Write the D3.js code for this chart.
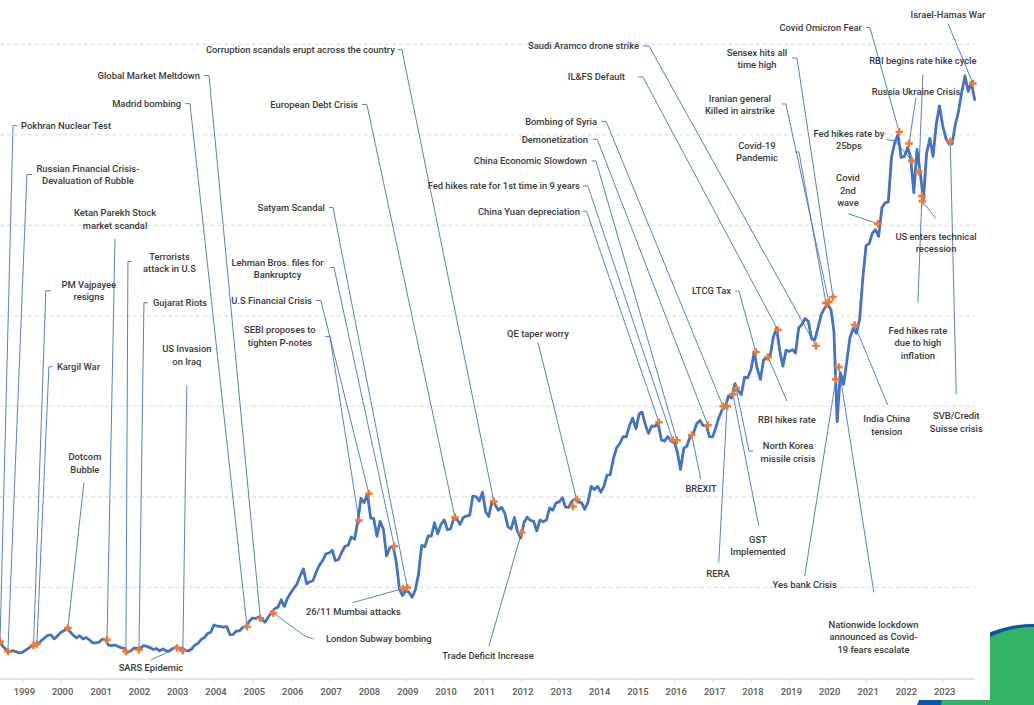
<!DOCTYPE html>
<html><head><meta charset="utf-8">
<script src="https://cdn.jsdelivr.net/npm/d3@7"></script>
<style>
html,body{margin:0;padding:0;background:#fff;overflow:hidden;}
svg{display:block;}
text{font-family:Roboto,"Liberation Sans",Arial,sans-serif;}
</style></head><body>
<svg id="chart" width="1034" height="705"></svg>
<script>
// ---------------- DATA ----------------
// Monthly BSE Sensex level (previous month close), one value per month starting at firstMonth
const firstMonth = "1998-04-01";
const sensex = [
  // 1998 Apr-Dec
  3890, 4000, 4000, 3450, 3100, 2900, 3000, 2900, 2750,
  // 1999
  2800, 3050, 3250, 3550, 3600, 3700, 4100, 4400, 4700, 4750, 4300, 4600,
  // 2000
  5000, 5200, 5500, 5050, 4700, 4400, 4650, 4300, 4450, 4200, 3850, 3850,
  // 2001
  3950, 4250, 4250, 3600, 3550, 3630, 3450, 3330, 3240, 2810, 2990, 3290,
  // 2002
  3260, 3310, 3560, 3470, 3340, 3130, 3240, 2990, 3180, 2990, 2950, 3230,
  // 2003
  3380, 3250, 3280, 3050, 2960, 3180, 3610, 3790, 4240, 4450, 4900, 5040,
  // 2004
  5840, 5700, 5670, 5590, 5660, 4760, 4800, 5170, 5190, 5580, 5670, 6230,
  // 2005
  6600, 6560, 6710, 6490, 6150, 6720, 7190, 7640, 7810, 8630, 7890, 8790,
  // 2006
  9400, 9920, 10370, 11280, 12040, 10400, 10610, 10740, 11700, 12450, 12960, 13700,
  // 2007
  13790, 14090, 12940, 13070, 13870, 14540, 14650, 15550, 15320, 17290, 19840, 19360,
  // 2008
  20290, 17650, 17580, 15640, 17290, 16420, 13460, 14360, 14560, 12860, 9790, 9090,
  // 2009
  9650, 9420, 8890, 9710, 11400, 14630, 14490, 15670, 15670, 17130, 15900, 16930,
  // 2010
  17460, 16360, 16430, 17530, 17560, 16940, 17700, 17870, 17970, 20070, 20030, 19520,
  // 2011
  20510, 18330, 17820, 19450, 19140, 18500, 18850, 18200, 16680, 16450, 17710, 16120,
  // 2012
  15450, 17190, 17750, 17400, 17320, 16220, 17430, 17240, 17430, 18760, 18510, 19340,
  // 2013
  19430, 19890, 18860, 18840, 19500, 19760, 19400, 19350, 18620, 19380, 21160, 20790,
  // 2014
  21170, 20510, 21120, 22390, 22420, 24220, 25410, 25890, 26640, 26630, 27870, 28690,
  // 2015
  27500, 29180, 29360, 27960, 27010, 27830, 27780, 28110, 26280, 26150, 26660, 26150,
  // 2016
  26120, 24870, 23000, 25340, 25610, 26670, 27000, 28050, 28450, 27870, 27930, 26650,
  // 2017
  26630, 27660, 28740, 29620, 29920, 31150, 30920, 32510, 31730, 31280, 33210, 33150,
  // 2018
  34060, 35970, 34180, 32970, 35160, 35320, 35420, 37610, 38650, 36230, 34440, 36190,
  // 2019
  36070, 36260, 35870, 38670, 39030, 39710, 39390, 37480, 37330, 38670, 40130, 40790,
  // 2020
  41250, 40720, 38300, 28300, 33720, 32420, 34920, 37610, 38630, 38070, 39610, 44150,
  // 2021
  47750, 48000, 49100, 49510, 48780, 51940, 52480, 52590, 57550, 59130, 60000, 57500,
  // 2022
  57600, 58600, 57500, 53600, 58400, 55800, 52800, 58000, 59600, 57600, 61200, 63200,
  // 2023 Jan-Nov
  61000, 59600, 59000, 59000, 61100, 62600, 64700, 66500, 64800, 65800, 63900
];

const yearTicks = [1999,2000,2001,2002,2003,2004,2005,2006,2007,2008,2009,2010,2011,
                   2012,2013,2014,2015,2016,2017,2018,2019,2020,2021,2022,2023];
const gridValues = [10000,20000,30000,40000,50000,60000,70000];

// Events (annotations)
const eventLabels = [
  "Pokhran Nuclear Test",
  "Russian Financial Crisis-\nDevaluation of Rubble",
  "Ketan Parekh Stock\nmarket scandal",
  "Terrorists\nattack in U.S",
  "PM Vajpayee\nresigns",
  "Gujarat Riots",
  "Kargil War",
  "US Invasion\non Iraq",
  "SARS Epidemic",
  "Dotcom\nBubble",
  "Madrid bombing",
  "Global Market Meltdown",
  "London Subway bombing",
  "26/11 Mumbai attacks",
  "Satyam Scandal",
  "Lehman Bros. files for\nBankruptcy",
  "U.S Financial Crisis",
  "SEBI proposes to\ntighten P-notes",
  "Corruption scandals erupt across the country",
  "European Debt Crisis",
  "Trade Deficit Increase",
  "QE taper worry",
  "",
  "China Yuan depreciation",
  "Fed hikes rate for 1st time in 9 years",
  "China Economic Slowdown",
  "Demonetization",
  "Bombing of Syria",
  "RERA",
  "GST\nImplemented",
  "North Korea\nmissile crisis",
  "BREXIT",
  "LTCG Tax",
  "RBI hikes rate",
  "IL&FS Default",
  "Saudi Aramco drone strike",
  "Covid-19\nPandemic",
  "Iranian general\nKilled in airstrike",
  "Sensex hits all\ntime high",
  "Yes bank Crisis",
  "Nationwide lockdown\nannounced as Covid-\n19 fears escalate",
  "India China\ntension",
  "Covid\n2nd\nwave",
  "Covid Omicron Fear",
  "Russia Ukraine Crisis",
  "Fed hikes rate by\n25bps",
  "RBI begins rate hike cycle",
  "Fed hikes rate\ndue to high\ninflation",
  "US enters technical\nrecession",
  "SVB/Credit\nSuisse crisis",
  "Israel-Hamas War"
];
const eventDates = [
  "1998-06-03","1998-08-17","2001-03-18","2001-09-14","1999-04-18","2002-01-16","1999-05-20",
  "2003-03-10","2003-01-13","2000-03-10","2004-11-10","2005-03-17","2005-07-18","2008-12-04",
  "2009-01-15","2008-09-13","2008-01-15","2007-10-12","2011-04-19","2010-04-13","2012-01-08",
  "2013-06-16","2013-05-12","2015-08-08","2015-12-19","2016-01-27","2016-11-17","2017-04-10",
  "2017-05-18","2017-07-13","2017-08-12","2016-06-16","2018-02-17","2018-06-12","2018-09-15",
  "2019-09-12","2019-12-16","2020-01-13","2020-02-21","2020-03-20","2020-04-17","2020-09-15",
  "2021-04-24","2021-11-13","2022-02-14","2022-03-14","2022-05-19","2022-06-17","2022-06-21",
  "2023-03-14","2023-10-16"
];
const eventValues = [
  4000, 2900, 4200, 2900, 3580, 3100, 3730,
  3000, 3300, 5500, 5650, 6570, 7170, 9860,
  9970, 14540, 20340, 17390, 19490, 17750, 16060,
  19710, 18940, 28240, 26250, 26250, 27900, 30000,
  30000, 31340, 32000, 26830, 35990, 35440, 38430,
  36660, 41420, 41530, 42080, 33000, 34330, 38980,
  50170, 60320, 59030, 57140, 55920, 53230, 52660,
  59250, 65670
];

// ---------------- LAYOUT (label offsets from each marker, in px) ----------------
const labelLayout = [
  {t:[21,-516],a:"start",p:[[17,-516],[13,-516]]},
  {t:[80,-477],a:"middle",p:[[24,-477],[19,-477]]},
  {t:[8,-420.5],a:"middle",p:[[8,-401]]},
  {t:[43.5,-389],a:"middle",p:[[6,-390],[2,-390]]},
  {t:[55.3,-354.7],a:"middle",p:[[17.3,-354.7],[12.3,-354.7]]},
  {t:[14,-347],a:"start",p:[[9,-347],[5,-347]]},
  {t:[20,-277.3],a:"start",p:[[16,-277.3],[12,-277.3]]},
  {t:[4,-295.5],a:"middle",p:[[4,-265]]},
  {t:[-26,20],a:"middle",p:[[-26,12]]},
  {t:[17,-165],a:"middle",p:[[16,-145]]},
  {t:[-66,-523],a:"end",p:[[-62,-523],[-57,-523]]},
  {t:[-60.3,-542.7],a:"end",p:[[-56.3,-542.7],[-51.3,-542.7]]},
  {t:[52.7,25.7],a:"start",p:[[40,25.7],[32,23.4]]},
  {t:[-97,23],a:"start",p:[[-50,14]]},
  {t:[-82.3,-380],a:"end",p:[[-78.3,-380],[-74.3,-380]]},
  {t:[-116.8,-277.7],a:"middle",p:[[-64.3,-278.7],[-60.3,-278.7]]},
  {t:[-57,-193.3],a:"end",p:[[-53,-193.3],[-48,-193.3]]},
  {t:[-79,-184],a:"middle",p:[[-34,-184],[-29,-184]]},
  {t:[-99,-452],a:"end",p:[[-96,-452],[-92,-452]]},
  {t:[-97,-412.7],a:"end",p:[[-93,-412.7],[-88,-412.7]]},
  {t:[-79.4,123],a:"start",p:[[-32.7,114]]},
  {t:[-38.7,-166],a:"middle",p:[[-38.7,-157]]},
  null,
  {t:[-79,-211],a:"end",p:[[-76.3,-211],[-72.3,-211]]},
  {t:[-93,-254.3],a:"end",p:[[-90,-254.3],[-85,-254.3]]},
  {t:[-90,-279.3],a:"end",p:[[-85.3,-279.3],[-81,-279.3]]},
  {t:[-120,-286],a:"end",p:[[-115.3,-286],[-110.7,-286]]},
  {t:[-126,-285],a:"end",p:[[-122,-285],[-117,-285]]},
  {t:[-9,167.3],a:"middle",p:[[-8.3,156.3]]},
  {t:[25,151.5],a:"middle",p:[[25.9,131.7]]},
  {t:[52,64],a:"middle",p:[[17,63],[13,63]]},
  {t:[9.3,53.3],a:"middle",p:[[9,44.3]]},
  {t:[-25,-61],a:"end",p:[[-21,-61],[-17,-61]]},
  {t:[19,63],a:"middle",p:[[19,44]]},
  {t:[-153,-253],a:"end",p:[[-140,-253],[-135,-253]]},
  {t:[-177,-300],a:"end",p:[[-173,-300],[-167,-300]]},
  {t:[-69,-151],a:"middle",p:[[-31,-151],[-27,-151]]},
  {t:[-89,-197.5],a:"middle",p:[[-47,-198],[-43,-198]]},
  {t:[-76,-238.5],a:"middle",p:[[-41,-239],[-36,-239]]},
  {t:[-31.2,205.7],a:"middle",p:[[-31.2,196.7]]},
  {t:[34.6,270],a:"middle",p:[[35,225.3]]},
  {t:[32,100],a:"middle",p:[[33,80]]},
  {t:[-30,-33.3],a:"middle",p:[[-29.7,-10]]},
  {t:[-37.3,-104.3],a:"end",p:[[-33.3,-104.3],[-29.3,-104.3]]},
  {t:[7,-52],a:"middle",p:[[7,-46]]},
  {t:[-63,-21],a:"middle",p:[[-25,-21],[-17,-20]]},
  {t:[4,-111],a:"middle",p:[[4,-97]]},
  {t:[-4,147],a:"middle",p:[[-4,106.7]]},
  {t:[13.7,41.5],a:"middle",p:[[13.7,17.5]]},
  {t:[6,280.5],a:"middle",p:[[6,253]]},
  {t:[-25,-69],a:"middle",p:[[-25,-60]]}
];

// ---------------- DRAW ----------------
const svg = d3.select("#chart");
const plotRight = 975, axisY = 679;
const parse = d3.utcParse("%Y-%m-%d");

const x = d3.scaleUtc()
  .domain([new Date(Date.UTC(1999,0,1)), new Date(Date.UTC(2023,0,1))])
  .range([22.3, 942.7]);
const y = d3.scaleLinear().domain([0, 70000]).range([677.8, 44.3]);

// decorative corner graphic
svg.append("circle").attr("cx",1034).attr("cy",749).attr("r",125).attr("fill","#0b56a4");
svg.append("circle").attr("cx",1032).attr("cy",719).attr("r",92).attr("fill","#34b368");
svg.append("rect").attr("x",0).attr("y",0).attr("width",990).attr("height",700).attr("fill","#fff");

// gridlines
svg.append("g").selectAll("line").data(gridValues).join("line")
  .attr("x1",0).attr("x2",plotRight)
  .attr("y1",d=>y(d)).attr("y2",d=>y(d))
  .attr("stroke","#d9d9d9").attr("stroke-width",1).attr("stroke-dasharray","4,3");

// x axis
const axis = d3.axisBottom(x)
  .tickValues(yearTicks.map(yr => new Date(Date.UTC(yr,0,1))))
  .tickFormat(d3.utcFormat("%Y"))
  .tickSize(3).tickSizeOuter(0);
const gAx = svg.append("g").attr("transform",`translate(0,${axisY})`).call(axis);
gAx.select(".domain").remove();
gAx.selectAll(".tick line").attr("stroke","#d9d9d9").attr("stroke-width",1);
gAx.selectAll(".tick text").attr("y",9).attr("dx","1.5")
  .attr("fill","#595959").style("font-size","9.4px").style("font-weight","500")
  .style("font-family","Roboto,'Liberation Sans',Arial,sans-serif");
svg.append("line").attr("x1",0).attr("x2",plotRight).attr("y1",axisY).attr("y2",axisY)
  .attr("stroke","#d9d9d9").attr("stroke-width",1.5);

// series
const months = d3.utcMonth.range(parse(firstMonth), d3.utcMonth.offset(parse(firstMonth), sensex.length));
const series = months.map((m,i)=>({date:m, value:sensex[i]}));
const events = eventLabels.map((l,i)=>({label:l, date:parse(eventDates[i]), value:eventValues[i], layout:labelLayout[i]}));

// leader lines
const gLead = svg.append("g");
events.forEach(e=>{
  if(!e.layout) return;
  const mx = x(e.date), my = y(e.value);
  const pts = e.layout.p.map(p=>[mx+p[0], my+p[1]]).concat([[mx,my]]);
  gLead.append("path").attr("d", d3.line()(pts))
    .attr("fill","none").attr("stroke","#4472c4").attr("stroke-width",0.9);
});

svg.append("path").datum(series)
  .attr("d", d3.line().x(d=>x(d.date)).y(d=>y(d.value)))
  .attr("fill","none").attr("stroke","#4472c4").attr("stroke-width",2.8)
  .attr("stroke-linejoin","round").attr("stroke-linecap","round");

// markers
svg.append("g").selectAll("path").data(events).join("path")
  .attr("d", d3.symbol(d3.symbolCross, 32))
  .attr("transform", d=>`translate(${x(d.date)},${y(d.value)})`)
  .attr("fill","#ed7d31");

// labels
const lh = 12.5;
const gLab = svg.append("g").style("font-size","9.4px").style("font-weight","500").attr("fill","#3a3a3a");
events.forEach(e=>{
  if(!e.layout || !e.label) return;
  const mx = x(e.date), my = y(e.value);
  const lines = e.label.split("\n");
  const tx = mx + e.layout.t[0], ty = my + e.layout.t[1];
  const t = gLab.append("text").attr("text-anchor", e.layout.a);
  lines.forEach((ln,k)=>{
    t.append("tspan").attr("x",tx).attr("y", ty - (lines.length-1)*lh/2 + k*lh + 3.3).text(ln);
  });
});
</script>
</body></html>
